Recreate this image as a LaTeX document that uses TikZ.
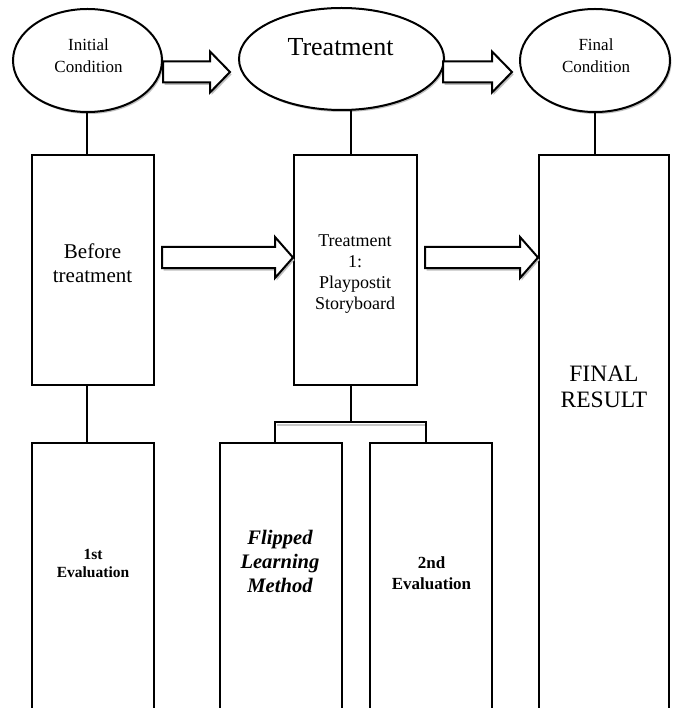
\documentclass[tikz,border=0pt]{standalone}
\usepackage{fontspec}
\setmainfont{Liberation Serif}
\usetikzlibrary{shapes.geometric,shadows,calc}
\newcommand\blockarrow[4]{% tail x, head start x, tip x, centre y
  \draw[barrow] (#1,#4-10.5) -- (#2,#4-10.5) -- (#2,#4-20.5) -- (#3,#4)
    -- (#2,#4+20.5) -- (#2,#4+10.5) -- (#1,#4+10.5) -- cycle;}
\begin{document}
\begin{tikzpicture}[x=1pt,y=-1pt,
  every node/.style={inner sep=0pt,outer sep=0pt},
  shp/.style={draw=black,line width=2pt,fill=white},
  ovl/.style={shp,ellipse,drop shadow={shadow xshift=1.5pt,shadow yshift=-2pt,fill=black!25,opacity=1}},
  box/.style={shp,rectangle},
  barrow/.style={draw=black,line width=2pt,fill=white,line join=miter,
     drop shadow={shadow xshift=1.5pt,shadow yshift=-2.5pt,fill=black!25,opacity=1}},
  link/.style={line width=2pt,draw=black,line join=miter},
  lbl/.style={align=center,text=black}
]
\useasboundingbox (0,0) rectangle (676,708);
\clip (0,0) rectangle (676,708);
\fill[white] (0,0) rectangle (676,708);

% ellipses
\node[ovl,minimum width=149pt,minimum height=103pt] (e1) at (87.5,60.5) {};
\node[ovl,minimum width=205pt,minimum height=102pt] (e2) at (341.5,59) {};
\node[ovl,minimum width=150pt,minimum height=103pt] (e3) at (595,60.5) {};

% rectangles
\node[box,minimum width=122pt,minimum height=230pt] (r1) at (93,270) {};
\node[box,minimum width=123pt,minimum height=230pt] (r2) at (355.5,270) {};
\node[box,minimum width=130pt,minimum height=565pt] (r3) at (604,437.5) {};
\node[box,minimum width=122pt,minimum height=277pt] (r4) at (93,581.5) {};
\node[box,minimum width=122pt,minimum height=277pt] (r5) at (281,581.5) {};
\node[box,minimum width=122pt,minimum height=277pt] (r6) at (431,581.5) {};

% block arrows
\blockarrow{163}{210}{230}{72}
\blockarrow{443}{492}{512}{72}
\blockarrow{162}{275}{293}{257.5}
\blockarrow{425}{520}{538}{257.5}

% connectors
\coordinate (c1) at (87,0);
\coordinate (c2) at (351,0);
\coordinate (c3) at (595,0);
\coordinate (b5) at (275,0);
\coordinate (b6) at (426,0);
\coordinate (bj) at (351,422);
\draw[link] (e1.south -| c1) -- (r1.north -| c1);
\draw[link] (e2.south -| c2) -- (r2.north -| c2);
\draw[link] (e3.south -| c3) -- (r3.north -| c3);
\draw[link] (r1.south -| c1) -- (r4.north -| c1);
\draw[line width=2pt,black!22] ($(b5 |- bj)+(2,2.5)$) -- ($(b6 |- bj)+(0,2.5)$);
\draw[link] (r2.south -| c2) -- (bj);
\draw[link] (r5.north -| b5) -- (b5 |- bj) -- (b6 |- bj) -- (r6.north -| b6);

% labels
\node[lbl,font=\fontsize{17}{21.5}\selectfont] (t1) at (88.5,55.5) {Initial\\Condition};
\node[lbl,font=\fontsize{26}{30}\selectfont] (t2) at (340.5,47.5) {Treatment};
\node[lbl,font=\fontsize{17}{21.5}\selectfont] (t3) at (596,55.5) {Final\\Condition};
\node[lbl,font=\fontsize{21}{24}\selectfont] (t4) at (92.5,263) {Before\\treatment};
\node[lbl,font=\fontsize{18}{21}\selectfont] (t5) at (355,274.5) {Treatment\\1:\\Playpostit\\Storyboard};
\node[lbl,font=\fontsize{23.5}{26.5}\selectfont] (t6) at (604,387) {FINAL\\RESULT};
\node[lbl,font=\fontsize{15.5}{18.4}\selectfont\bfseries] (t7) at (93,563.3) {1st\\Evaluation};
\node[lbl,font=\fontsize{20.6}{24}\selectfont\bfseries\itshape] (t8) at (280,561.8) {Flipped\\Learning\\Method};
\node[lbl,font=\fontsize{17}{21}\selectfont\bfseries] (t9) at (431.5,573) {2nd\\Evaluation};
\end{tikzpicture}
\end{document}
